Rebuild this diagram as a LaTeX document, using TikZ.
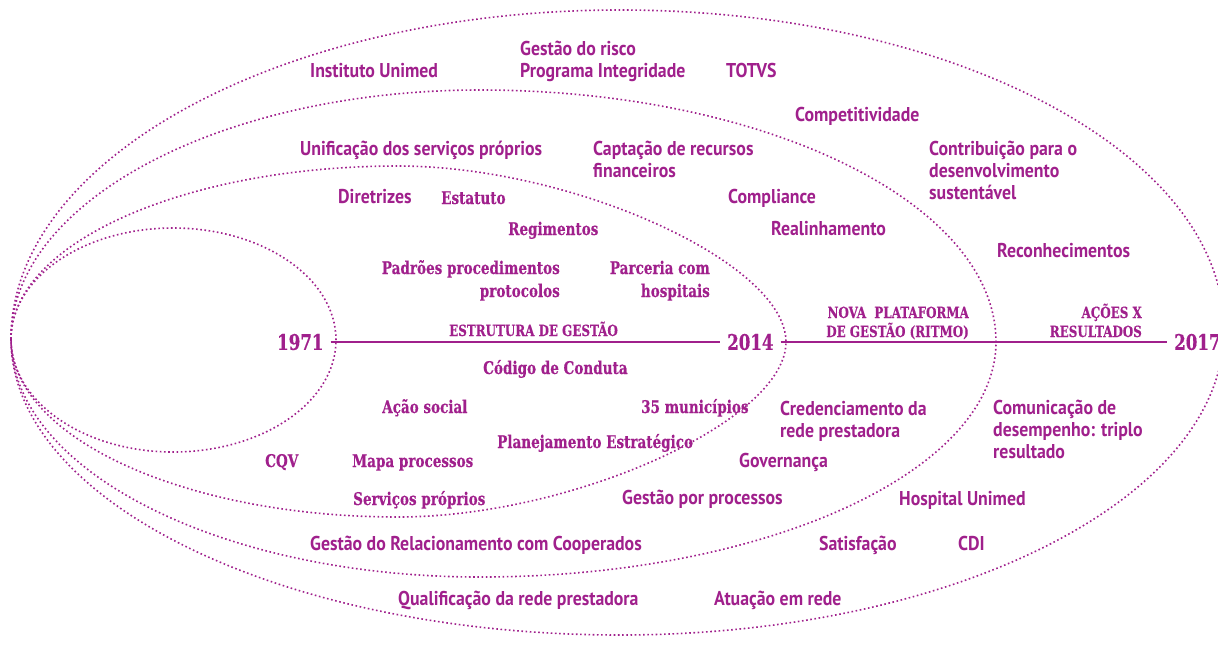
\documentclass[tikz,border=0pt]{standalone}
\usepackage{fontspec}
\usepackage{tikz}
\newfontfamily\unisans[FakeStretch=0.89]{PT Sans}
\newfontfamily\unislab[FakeStretch=0.86, FakeBold=0.4]{DejaVu Serif Condensed}
\definecolor{unipurple}{RGB}{160,32,140}

\begin{document}
\begin{tikzpicture}[
    x=1pt, y=-1pt,
    every node/.style={text=unipurple, inner sep=0pt},
    sanslbl/.style={font=\unisans\bfseries\fontsize{20}{22}\selectfont, align=left, anchor=base west},
    slablbl/.style={font=\unislab\bfseries\fontsize{17.5}{23}\selectfont, align=left, anchor=base west},
    caplbl/.style={font=\unislab\bfseries\fontsize{15.4}{19}\selectfont, align=right, anchor=base east},
    yearlbl/.style={font=\unislab\bfseries\fontsize{21.5}{24}\selectfont, inner xsep=7pt, anchor=west},
    ring/.style={draw=unipurple, line width=1.6pt, dash pattern=on 1.6pt off 2.6pt},
    axis/.style={draw=unipurple, line width=1.9pt},
]
\useasboundingbox (0,0) rectangle (1218,646);

% === Nested rings (all meet at the left point) ===
\def\lx{11}
\def\ly{339}
% top x/y, right x/y, bottom x/y, roundness of the right half
\foreach \tx/\ty/\rx/\ry/\bx/\by/\k in {
    173/228/336/340/173/452/0.552,
    398/166/786/342/398/517/0.45,
    480/90/996/342/480/577/0.552,
    620/10/1224/330/620/635/0.552} {
    \draw[ring] (\lx,\ly)
        .. controls (\lx,{\ly-0.552*(\ly-\ty)}) and ({\tx-0.552*(\tx-\lx)},\ty) .. (\tx,\ty)
        .. controls ({\tx+\k*(\rx-\tx)},\ty) and (\rx,{\ry-\k*(\ry-\ty)}) .. (\rx,\ry)
        .. controls (\rx,{\ry+\k*(\by-\ry)}) and ({\bx+\k*(\rx-\bx)},\by) .. (\bx,\by)
        .. controls ({\bx-0.552*(\bx-\lx)},\by) and (\lx,{\ly+0.552*(\by-\ly)}) .. cycle;
}

% === Time axis ===
\node[yearlbl] (y1971) at (270,342) {1971};
\node[yearlbl] (y2014) at (720,342) {2014};
\node[yearlbl] (y2017) at (1167,342) {2017};
\draw[axis] (y1971.east) -- (y2014.west);
\draw[axis] (y2014.east) -- (y2017.west);

\node[caplbl, anchor=base west] (estrut) at (449,336) {ESTRUTURA DE GESTÃO};
\node[caplbl] (ritmo) at (969,337) {NOVA\ \ PLATAFORMA\\DE GESTÃO (RITMO)};
\node[caplbl] (acoes) at (1142,337) {AÇÕES X\\RESULTADOS};

% === 1971 - 2014 ===
\node[slablbl] (estat) at (441,204) {Estatuto};
\node[slablbl] (regim) at (508,235) {Regimentos};
\node[slablbl, align=right, anchor=base east] (padroes) at (560,297) {Padrões procedimentos\\protocolos};
\node[slablbl, align=right, anchor=base east] (parceria) at (710,297) {Parceria com\\hospitais};
\node[slablbl] (codigo) at (483,374) {Código de Conduta};
\node[slablbl] (acao) at (382,413) {Ação social};
\node[slablbl] (munic) at (641,413) {35 municípios};
\node[slablbl] (planej) at (497,448) {Planejamento Estratégico};
\node[slablbl] (cqv) at (265,467) {CQV};
\node[slablbl] (mapa) at (352,467) {Mapa processos};
\node[slablbl] (servic) at (353,505) {Serviços próprios};

% === Outer rings ===
\node[sanslbl] (inst) at (310,77) {Instituto Unimed};
\node[sanslbl] (risco) at (520,77) {Gestão do risco\\Programa Integridade};
\node[sanslbl] (totvs) at (726,77) {TOTVS};
\node[sanslbl] (compet) at (795,121) {Competitividade};
\node[sanslbl] (unif) at (300,155) {Unificação dos serviços próprios};
\node[sanslbl] (capt) at (593,177) {Captação de recursos\\financeiros};
\node[sanslbl] (contrib) at (929,199) {Contribuição para o\\desenvolvimento\\sustentável};
\node[sanslbl] (diretr) at (338,203) {Diretrizes};
\node[sanslbl] (compl) at (728,203) {Compliance};
\node[sanslbl] (realin) at (771,235) {Realinhamento};
\node[sanslbl] (reconh) at (997,257) {Reconhecimentos};
\node[sanslbl] (credenc) at (780,437) {Credenciamento da\\rede prestadora};
\node[sanslbl] (comunic) at (993,458) {Comunicação de\\desempenho: triplo\\resultado};
\node[sanslbl] (govern) at (739,467) {Governança};
\node[sanslbl] (gproc) at (622,504) {Gestão por processos};
\node[sanslbl] (hosp) at (899,505) {Hospital Unimed};
\node[sanslbl] (relac) at (310,550) {Gestão do Relacionamento com Cooperados};
\node[sanslbl] (satisf) at (819,550) {Satisfação};
\node[sanslbl] (cdi) at (958,550) {CDI};
\node[sanslbl] (qualif) at (398,605) {Qualificação da rede prestadora};
\node[sanslbl] (atuacao) at (714,605) {Atuação em rede};

\end{tikzpicture}
\end{document}
